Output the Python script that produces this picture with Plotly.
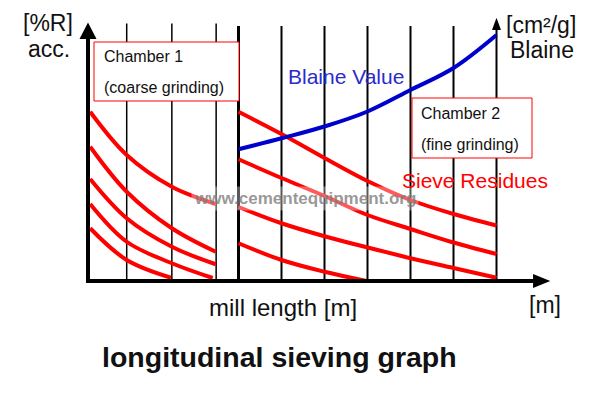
import plotly.graph_objects as go

W, H = 609, 396
FONT = "Liberation Sans, Arial, sans-serif"

# ---- data (mill length in m, accumulated sieve residue in %) ----
c1_x = [0.05, 0.9, 1.95, 2.97]
c1_r1 = [67.7, 50.4, 37.7, 30.8]
c1_r2 = [53.7, 35.7, 21.1, 11.7]
c1_r3 = [40.8, 25.1, 13.7, 6.7]
c1_r4_x = [0.05, 0.9, 1.95, 2.9]
c1_r4 = [30.8, 15.7, 7.1, 1.2]
c1_r5_x = [0.05, 0.9, 1.93]
c1_r5 = [21.1, 8.4, 1.3]

c2_x = [3.5, 4.5, 5.5, 6.5, 7.5, 8.5, 9.5]
c2_r1 = [67.7, 58.8, 49.2, 40.0, 32.4, 26.8, 22.2]
c2_r2 = [48.7, 41.2, 34.0, 26.4, 20.8, 15.4, 10.8]
c2_r3 = [29.6, 23.1, 17.9, 13.4, 9.1, 5.2, 1.3]
c2_r4_x = [3.5, 4.5, 5.5, 6.45]
c2_r4 = [15.1, 8.4, 3.7, 0.1]
blaine = [52.7, 57.1, 61.8, 67.8, 76.4, 85.2, 98.4]

grid_c1 = [0.9, 1.95, 2.98]
grid_c2 = [4.5, 5.5, 6.5, 7.5, 8.5]
divider_x = 3.5
blaine_axis_x = 9.5

# pixel scale of the drawing: 43 px per metre, 2.5 px per percent
PX_X, PX_Y = 43.0, 2.5
X0_PX, Y0_PX = 88.0, 281.0
xr = [-X0_PX / PX_X, (W - X0_PX) / PX_X]
yr = [(Y0_PX - H) / PX_Y, Y0_PX / PX_Y]

def dx(px):
    return px / PX_X

def dy(px):
    return px / PX_Y

fig = go.Figure()

RED = "#ff0000"
BLUE = "#0000cc"

# grid / axis shapes
shapes = []
for gx in grid_c1:
    shapes.append(dict(type="line", xref="x", yref="y", x0=gx, x1=gx, y0=0, y1=103,
                       line=dict(color="black", width=1.5), layer="below"))
for gx in grid_c2:
    shapes.append(dict(type="line", xref="x", yref="y", x0=gx, x1=gx, y0=0, y1=102,
                       line=dict(color="black", width=2), layer="below"))
shapes.append(dict(type="line", xref="x", yref="y", x0=divider_x, x1=divider_x, y0=0, y1=102,
                   line=dict(color="black", width=3), layer="below"))
# Blaine axis with arrow
shapes.append(dict(type="line", xref="x", yref="y", x0=blaine_axis_x, x1=blaine_axis_x, y0=0, y1=101,
                   line=dict(color="black", width=2), layer="below"))
shapes.append(dict(type="path", xref="x", yref="y",
                   path=f"M {blaine_axis_x - dx(4.5)},{100.4} L {blaine_axis_x + dx(4.5)},{100.4} L {blaine_axis_x},{105.3} Z",
                   fillcolor="black", line=dict(width=0), layer="below"))
# y axis with arrow
shapes.append(dict(type="line", xref="x", yref="y", x0=0, x1=0, y0=-dy(2), y1=97.5,
                   line=dict(color="black", width=4), layer="above"))
shapes.append(dict(type="path", xref="x", yref="y",
                   path=f"M {-dx(8.5)},{96.8} L {dx(8.5)},{96.8} L 0,{103.4} Z",
                   fillcolor="black", line=dict(width=0), layer="above"))
# x axis with arrow
shapes.append(dict(type="line", xref="x", yref="y", x0=-dx(2), x1=10.45, y0=0, y1=0,
                   line=dict(color="black", width=4), layer="above"))
shapes.append(dict(type="path", xref="x", yref="y",
                   path=f"M 10.35,{dy(7)} L 10.35,{-dy(7)} L 10.75,0 Z",
                   fillcolor="black", line=dict(width=0), layer="above"))

def pxbox(x0, y0, x1, y1):
    return dict(type="rect", xref="paper", yref="paper",
                x0=x0 / W, x1=x1 / W, y0=1 - y1 / H, y1=1 - y0 / H,
                fillcolor="white", line=dict(color=RED, width=1), layer="above")

shapes.append(pxbox(94, 42, 239, 101))
shapes.append(pxbox(412, 98, 532, 158))

# curves
def curve(x, y, color):
    fig.add_trace(go.Scatter(x=x, y=y, mode="lines", hoverinfo="skip", showlegend=False,
                             line=dict(color=color, width=4, shape="spline", smoothing=1.0)))

curve(c1_x, c1_r1, RED)
curve(c1_x, c1_r2, RED)
curve(c1_x, c1_r3, RED)
curve(c1_r4_x, c1_r4, RED)
curve(c1_r5_x, c1_r5, RED)
curve(c2_x, c2_r1, RED)
curve(c2_x, c2_r2, RED)
curve(c2_x, c2_r3, RED)
curve(c2_r4_x, c2_r4, RED)
curve(c2_x, blaine, BLUE)

def txt(s, x, y, size, color="#111111", xanchor="left", bold=False, bg=None):
    d = dict(text=f"<b>{s}</b>" if bold else s, xref="paper", yref="paper",
             x=x / W, y=1 - y / H, xanchor=xanchor, yanchor="middle", showarrow=False,
             font=dict(family=FONT, size=size, color=color))
    if bg:
        d["bgcolor"] = bg
        d["borderpad"] = 2
    return d

annotations = [
    txt("www.cementequipment.org", 191, 199, 17, color="rgba(125,125,125,0.8)", bold=True,
        bg="rgba(255,255,255,0.35)"),
    txt("[%R]", 48, 23, 23, xanchor="center"),
    txt("acc.", 49, 49, 23, xanchor="center"),
    txt("Chamber 1", 102, 56, 16),
    txt("(coarse grinding)", 102, 87, 16),
    txt("Chamber 2", 419, 113, 16),
    txt("(fine grinding)", 419, 144, 16),
    txt("Blaine Value", 286, 77, 21, color="#2b2bcc"),
    txt("Sieve Residues", 400, 180, 21, color=RED),
    txt("[cm²/g]", 504, 25, 23),
    txt("Blaine", 508, 50, 23),
    txt("mill length [m]", 207, 307, 24),
    txt("[m]", 527, 305, 23),
    txt("longitudinal sieving graph", 100, 357, 28.5, bold=True),
]

fig.update_layout(
    width=W, height=H,
    margin=dict(l=0, r=0, t=0, b=0),
    paper_bgcolor="white", plot_bgcolor="white",
    xaxis=dict(range=xr, visible=False, fixedrange=True),
    yaxis=dict(range=yr, visible=False, fixedrange=True),
    shapes=shapes,
    annotations=annotations,
    showlegend=False,
)

fig.write_html("out.html", config={"displayModeBar": False},
               post_script="document.body.style.margin='0';document.body.style.padding='0';")
